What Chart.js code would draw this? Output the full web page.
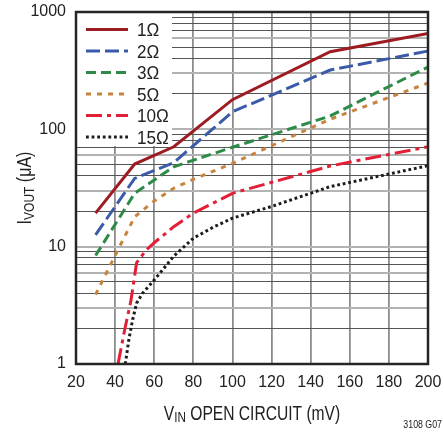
<!DOCTYPE html>
<html>
<head>
<meta charset="utf-8">
<script src="https://cdn.jsdelivr.net/npm/chart.js@4.4.1/dist/chart.umd.min.js"></script>
<style>
  html, body { margin: 0; padding: 0; background: #fff; }
  #wrap { width: 444px; height: 434px; }
</style>
</head>
<body>
<div id="wrap"><canvas id="chart" width="444" height="434"></canvas></div>
<script>
// values (x = VIN in mV, y = IVOUT in uA)
const seriesLabels = ["1Ω", "2Ω", "3Ω", "5Ω", "10Ω", "15Ω"];

const x1 = [30, 50, 70, 100, 150, 200];
const y1 = [19.3, 50.6, 71, 179, 459, 655];

const x2 = [30, 50, 70, 100, 150, 200];
const y2 = [12.6, 38.2, 52, 141, 320, 465];

const x3 = [30, 50, 70, 100, 150, 200];
const y3 = [8.4, 28.5, 48, 70.3, 130, 340];

const x5 = [30, 40, 50, 60, 70, 80, 100, 150, 200];
const y5 = [3.9, 8.4, 18, 24.5, 31.5, 37.5, 51.3, 122, 248];

const x10 = [41.5, 45, 48, 51, 56, 60, 70, 80, 100, 150, 200];
const y10 = [1, 2, 3.4, 7.3, 9.4, 10.8, 14.8, 19.3, 28.5, 48.7, 71];

const x15 = [45.2, 47, 49, 51, 54, 60, 70, 80, 90, 100, 120, 150, 200];
const y15 = [1, 1.6, 2.4, 3.3, 4.0, 5.2, 8.3, 11.8, 14.6, 17.5, 22, 32.5, 49];

const xTickValues = [20, 40, 60, 80, 100, 120, 140, 160, 180, 200];
const yGridValues = [1, 2, 3, 4, 5, 6, 7, 8, 9,
                     10, 20, 30, 40, 50, 60, 70, 80, 90,
                     100, 200, 300, 400, 500, 600, 700, 800, 900, 1000];
const yTickLabels = [1, 10, 100, 1000];

const toPoints = (xs, ys) => xs.map((x, i) => ({ x: x, y: ys[i] }));

const styles = [
    { color: "#9c1c21", dash: [] },
    { color: "#3b5ba9", dash: [14, 5] },
    { color: "#2d8b47", dash: [10, 5] },
    { color: "#c8843f", dash: [5, 6] },
    { color: "#e31f37", dash: [16, 5, 4, 5] },
    { color: "#1c1c1c", dash: [2.8, 2.8] }
];

const allX = [x1, x2, x3, x5, x10, x15];
const allY = [y1, y2, y3, y5, y10, y15];

const datasets = seriesLabels.map((label, i) => ({
    label: label,
    data: toPoints(allX[i], allY[i]),
    borderColor: styles[i].color,
    backgroundColor: styles[i].color,
    borderDash: styles[i].dash,
    borderWidth: 3,
    borderCapStyle: "butt",
    pointRadius: 0,
    fill: false,
    tension: 0
}));

// draw text with a horizontal squeeze, parts may be subscripts
function drawParts(ctx, parts, sx) {
    let w = 0;
    parts.forEach(p => {
        ctx.font = p.size + "px 'Liberation Sans', Arial, sans-serif";
        p.w = ctx.measureText(p.text).width * sx;
        w += p.w;
    });
    let x = -w / 2;
    parts.forEach(p => {
        ctx.save();
        ctx.font = p.size + "px 'Liberation Sans', Arial, sans-serif";
        ctx.translate(x, p.dy || 0);
        ctx.scale(sx, 1);
        ctx.fillText(p.text, 0, 0);
        ctx.restore();
        x += p.w;
    });
}

const decorPlugin = {
    id: "decor",
    beforeDatasetsDraw(chart) {
        const ctx = chart.ctx;
        const a = chart.chartArea;
        // legend box covering the grid
        ctx.save();
        ctx.fillStyle = "#fff";
        ctx.fillRect(a.left, a.top, 96, 134);
        chart.data.datasets.forEach((ds, i) => {
            const y = a.top + 17.5 + i * 21.5;
            ctx.beginPath();
            ctx.strokeStyle = ds.borderColor;
            ctx.lineWidth = 3;
            ctx.lineCap = "butt";
            ctx.setLineDash(ds.borderDash);
            ctx.moveTo(a.left + 10, y);
            ctx.lineTo(a.left + 52, y);
            ctx.stroke();
            ctx.setLineDash([]);
            ctx.fillStyle = "#222";
            ctx.textBaseline = "alphabetic";
            ctx.save();
            ctx.translate(a.left + 61, y + 6.5);
            ctx.scale(0.95, 1);
            ctx.font = "18px 'Liberation Sans', Arial, sans-serif";
            ctx.fillText(ds.label, 0, 0);
            ctx.restore();
        });
        ctx.restore();
    },
    afterDraw(chart) {
        const ctx = chart.ctx;
        const a = chart.chartArea;
        ctx.save();
        ctx.strokeStyle = "#262626";
        ctx.lineWidth = 2.5;
        ctx.strokeRect(a.left, a.top, a.right - a.left, a.bottom - a.top);

        ctx.fillStyle = "#222";
        ctx.textBaseline = "alphabetic";
        // x axis title
        ctx.save();
        ctx.translate((a.left + a.right) / 2, 419.5);
        drawParts(ctx, [
            { text: "V", size: 20 },
            { text: "IN", size: 15, dy: 2.5 },
            { text: " OPEN CIRCUIT (mV)", size: 20 }
        ], 0.78);
        ctx.restore();
        // y axis title
        ctx.save();
        ctx.translate(31, (a.top + a.bottom) / 2);
        ctx.rotate(-Math.PI / 2);
        drawParts(ctx, [
            { text: "I", size: 20 },
            { text: "VOUT", size: 15, dy: 2.5 },
            { text: " (μA)", size: 20 }
        ], 0.8);
        ctx.restore();
        // figure id
        ctx.save();
        ctx.translate(442, 428);
        ctx.scale(0.88, 1);
        ctx.font = "10px 'Liberation Sans', Arial, sans-serif";
        ctx.textAlign = "right";
        ctx.fillText("3108 G07", 0, 0);
        ctx.restore();
        ctx.restore();
    }
};

const significand = v => Math.round(v / Math.pow(10, Math.floor(Math.log10(v) + 1e-9)));

new Chart(document.getElementById("chart"), {
    type: "line",
    data: { datasets: datasets },
    options: {
        responsive: false,
        animation: false,
        layout: { padding: { left: 0, right: 16, top: 12, bottom: 0 } },
        plugins: {
            legend: { display: false },
            tooltip: { enabled: false }
        },
        scales: {
            x: {
                type: "linear",
                min: 20,
                max: 200,
                afterBuildTicks: scale => {
                    scale.ticks = xTickValues.map(v => ({ value: v }));
                },
                afterFit: scale => {
                    scale.height = 70;
                    scale.paddingLeft = 0;
                    scale.paddingRight = 0;
                },
                grid: { color: "#8c8c8c", lineWidth: 1.8, drawTicks: false },
                border: { display: false },
                ticks: {
                    autoSkip: false,
                    maxRotation: 0,
                    padding: 9,
                    color: "#222",
                    font: { family: "'Liberation Sans', Arial, sans-serif", size: 16 }
                }
            },
            y: {
                type: "logarithmic",
                min: 1,
                max: 1000,
                afterBuildTicks: scale => {
                    scale.ticks = yGridValues.map(v => ({ value: v }));
                },
                afterFit: scale => {
                    scale.width = 76;
                    scale.paddingTop = 0;
                    scale.paddingBottom = 0;
                },
                grid: {
                    drawTicks: false,
                    color: ctx => {
                        const s = significand(ctx.tick.value);
                        return (s === 1 || s === 3 || s === 6) ? "#b3b3b3" : "#555555";
                    },
                    lineWidth: ctx => {
                        const s = significand(ctx.tick.value);
                        return (s === 1 || s === 3 || s === 6) ? 2 : 1.1;
                    }
                },
                border: { display: false },
                ticks: {
                    autoSkip: false,
                    padding: 10,
                    color: "#222",
                    font: { family: "'Liberation Sans', Arial, sans-serif", size: 16 },
                    callback: value => yTickLabels.includes(value) ? String(value) : ""
                }
            }
        }
    },
    plugins: [decorPlugin]
});
</script>
</body>
</html>
